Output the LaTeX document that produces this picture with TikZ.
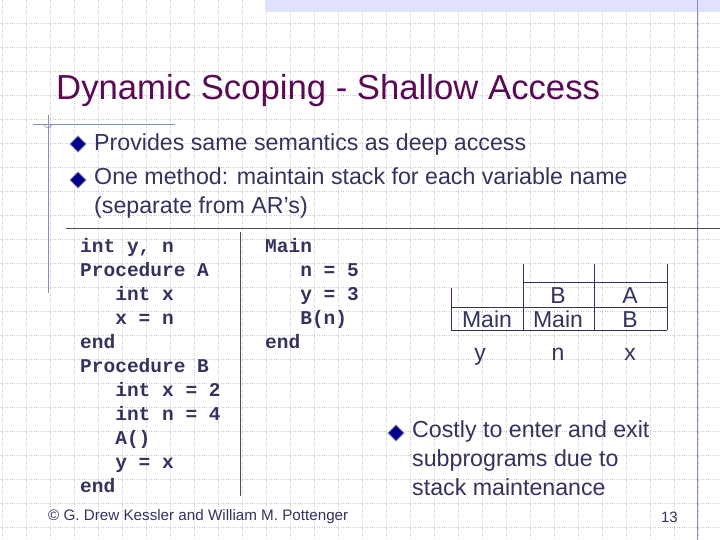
\documentclass[tikz,border=0pt]{standalone}
\usepackage{fontspec}
\setmainfont{Liberation Sans}
\newfontfamily\codefont{Liberation Mono}
\usetikzlibrary{shapes.geometric,patterns}
\definecolor{ttl}{HTML}{5A0A55}
\definecolor{txt}{HTML}{33335E}
\definecolor{grd}{HTML}{C8C8C8}
\definecolor{rul}{HTML}{8090B8}
\tikzset{
  bul/.style={diamond,draw=txt!60,fill=blue!55!black,inner sep=0pt,minimum size=16pt,line width=1pt,outer sep=0pt},
  btxt/.style={anchor=west,text=txt,font=\fontsize{23.2}{29}\selectfont,inner sep=0pt,align=left},
  code/.style={anchor=north west,text=txt,font=\codefont\bfseries\fontsize{19.5}{24}\selectfont,inner sep=0pt,align=left},
  stk/.style={text=txt,font=\fontsize{23}{25}\selectfont,inner sep=0pt,anchor=base},
  sl/.style={draw=txt,line width=0.9pt}
}
\begin{document}
\begin{tikzpicture}[x=1pt,y=-1pt]
\useasboundingbox (0,0) rectangle (720,540);
\fill[white] (0,0) rectangle (720,540);
\foreach \i in {0,24,...,720} \draw[grd,dotted,line width=0.4pt] (\i+2,0) -- (\i+2,540);
\foreach \j in {0,24,...,540} \draw[grd,dotted,line width=0.4pt] (0,\j+23) -- (720,\j+23);
\fill[blue!12] (265,0) rectangle (720,12);
\draw[rul,line width=0.7pt] (697,0) -- (697,540);
\draw[rul,line width=0.8pt] (33,124) -- (175,124);
\draw[rul,line width=0.8pt] (48,115) -- (48,293);
\draw[rul,line width=0.6pt] (44,124) arc (180:0:4);
\node[anchor=west,text=ttl,font=\fontsize{34.7}{36}\selectfont,inner sep=0pt] (title) at (56,91) {Dynamic Scoping - Shallow Access};
\node[bul] (b1) at (78,144) {};
\node[btxt] (t1) at (94,145) {Provides same semantics as deep access};
\node[bul] (b2) at (78,180) {};
\node[btxt,anchor=north west] (t2) at (94,167) {One method: maintain stack for each variable name\\(separate from AR’s)};
\draw[black!70,line width=0.8pt] (66,228) -- (720,228);
\draw[black!70,line width=0.8pt] (240,232) -- (240,496);
\node[code] (c1) at (80,238) {int y, n\\Procedure A\\\ \ \ int x\\\ \ \ x = n\\end\\Procedure B\\\ \ \ int x = 2\\\ \ \ int n = 4\\\ \ \ A()\\\ \ \ y = x\\end};
\node[code] (c2) at (265,238) {Main\\\ \ \ n = 5\\\ \ \ y = 3\\\ \ \ B(n)\\end};
% stack
\draw[sl] (451,288) -- (451,330);
\draw[sl] (523,264) -- (523,330);
\draw[sl] (594,264) -- (594,330);
\draw[sl] (667,264) -- (667,330);
\draw[sl] (523,282) -- (667,282);
\draw[sl] (451,307) -- (667,307);
\draw[sl] (451,330) -- (667,330);
\node[stk] (sB) at (558,303) {B};
\node[stk] (sA) at (630,303) {A};
\node[stk] (sM1) at (487,327) {Main};
\node[stk] (sM2) at (558,327) {Main};
\node[stk] (sB2) at (630,327) {B};
\node[stk] (vy) at (480,360) {y};
\node[stk] (vn) at (558,360) {n};
\node[stk] (vx) at (630,360) {x};
\node[bul] (b3) at (396,433) {};
\node[btxt,anchor=north west] (t3) at (412,420) {Costly to enter and exit\\subprograms due to\\stack maintenance};
\node[anchor=west,text=txt,font=\fontsize{15.2}{16}\selectfont,inner sep=0pt] (copy) at (48,517) {© G. Drew Kessler and William M. Pottenger};
\node[anchor=east,text=txt,font=\fontsize{15}{16}\selectfont,inner sep=0pt] (pg) at (678,517) {13};
\end{tikzpicture}
\end{document}
